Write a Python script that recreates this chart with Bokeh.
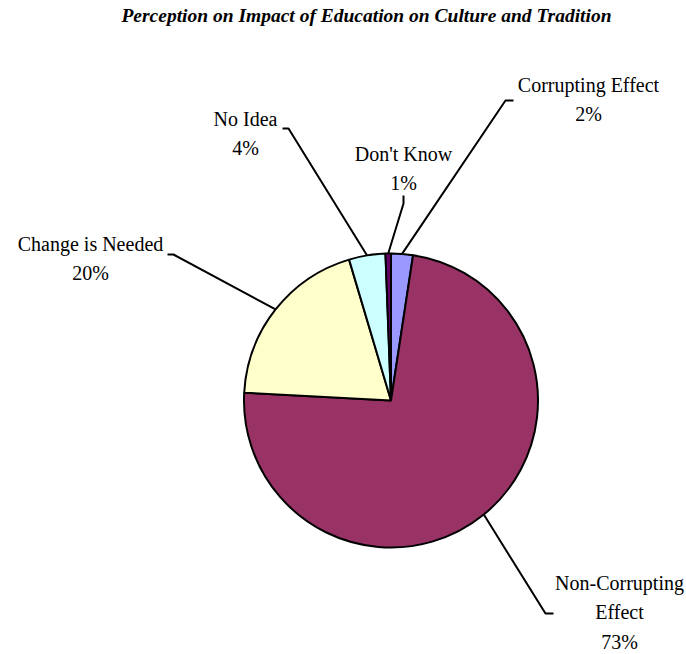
import numpy as np
from bokeh.plotting import figure
from bokeh.models import ColumnDataSource, Label, Range1d
from bokeh.core.properties import value
from bokeh.embed import file_html
from bokeh.resources import INLINE

# ---- data ----
categories = ["Corrupting Effect", "Non-Corrupting Effect", "Change is Needed", "No Idea", "Don't Know"]
shares = [2.4, 73.45, 19.55, 4.0, 0.6]
pct_labels = ["2%", "73%", "20%", "4%", "1%"]
label_names = ["Corrupting Effect", "Non-Corrupting\nEffect", "Change is Needed", "No Idea", "Don't Know"]
colors = ["#9999FF", "#993366", "#FFFFCC", "#CCFFFF", "#660066"]
title_text = "Perception on Impact of Education on Culture and Tradition"

# ---- layout (canvas coordinates, y up) ----
W, H = 686, 654
def sx(x):
    return x
def sy(y):
    return H - y

cx, cy, R = sx(390.5), sy(400), 147
# label block centres (screen px) and leader elbow/end points (screen px)
label_pos = [(588, 99), (619, 612), (90, 258), (245, 133), (403, 168)]
elbow_pos = [(505, 100), (545, 613), (173, 254), (288, 128), (403, 203)]
end_pos = [(513, 100), (553, 613), (167, 254), (282, 128), (403, 195)]

fr = np.array(shares) / np.sum(shares)
cum_end = np.cumsum(fr)
cum_start = cum_end - fr
start_angle = np.pi / 2 - 2 * np.pi * cum_start
end_angle = np.pi / 2 - 2 * np.pi * cum_end
mid_angle = (start_angle + end_angle) / 2

p = figure(width=W, height=H, output_backend="svg", toolbar_location=None,
           x_range=Range1d(0, W), y_range=Range1d(0, H), min_border=0)
p.axis.visible = False
p.grid.visible = False
p.outline_line_color = None
p.background_fill_color = "white"
p.border_fill_color = "white"

src = ColumnDataSource(dict(start=start_angle, end=end_angle, color=colors, cat=categories))
p.wedge(x=cx, y=cy, radius=R, start_angle="start", end_angle="end", direction="clock",
        fill_color="color", line_color="black", line_width=2, source=src)

# leader lines
xs, ys = [], []
for a, e, t in zip(mid_angle, elbow_pos, end_pos):
    xs.append([cx + R * np.cos(a), sx(e[0]), sx(t[0])])
    ys.append([cy + R * np.sin(a), sy(e[1]), sy(t[1])])
p.multi_line(xs=xs, ys=ys, line_color="black", line_width=2)

# labels
texts = [f"{n}\n{pc}" for n, pc in zip(label_names, pct_labels)]
p.text(x=[sx(l[0]) for l in label_pos], y=[sy(l[1]) for l in label_pos], text=texts,
       text_align="center", text_baseline="middle", text_font=value("Liberation Serif"),
       text_font_size="20px", text_color="black", text_line_height=1.35)

p.add_layout(Label(x=sx(366), y=sy(15), text=title_text, text_align="center",
                   text_baseline="middle", text_font="Liberation Serif",
                   text_font_style="bold italic", text_font_size="19.5px", text_color="black"))

open("out.html", "w").write(file_html(p, INLINE))
